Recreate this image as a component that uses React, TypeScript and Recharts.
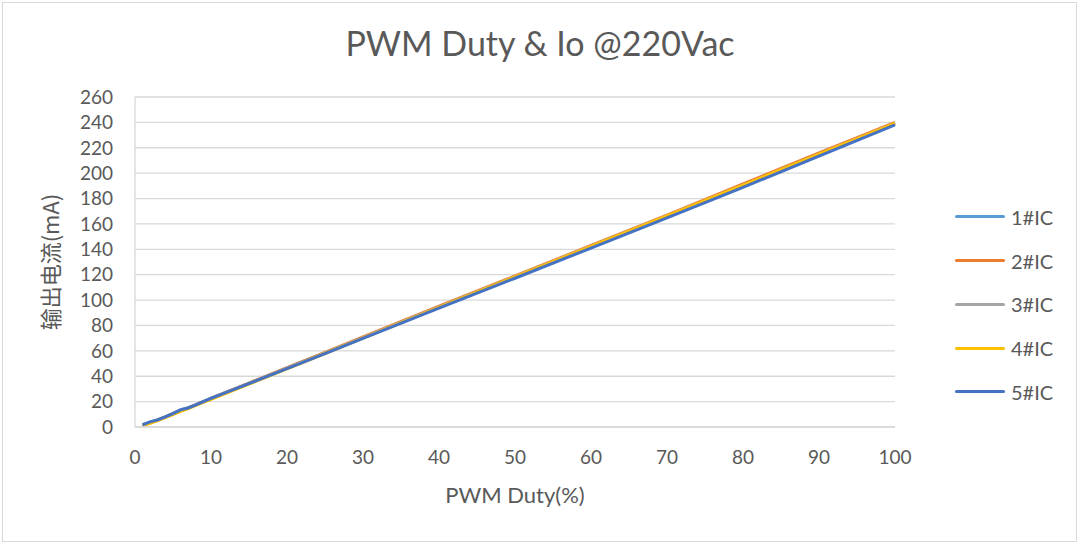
import { CartesianGrid, Label, Line, LineChart, XAxis, YAxis } from "recharts";

const duty = [1, 2, 3, 4, 5, 6, 7, 8, 9, 10, 15, 20, 25, 30, 40, 50, 60, 70, 80, 90, 100];

const ic1 = [1.8, 4, 5.8, 8.2, 10.8, 13.6, 15.2, 17.6, 20.2, 22.8, 34.5, 46.5, 58.3, 70.5, 94.5, 118, 142, 166, 190, 215, 239];
const ic2 = [1.5, 3.6, 5.6, 8, 10.5, 13, 15, 17.5, 20, 22.6, 34.6, 46.8, 58.8, 71, 95.2, 119, 143, 167, 191.5, 216, 240];
const ic3 = [1.4, 3.4, 5.4, 7.8, 10.2, 12.8, 14.8, 17.2, 19.8, 22.3, 34.2, 46.3, 58.3, 70.4, 94.6, 118.4, 142.4, 166.4, 190.6, 215, 239.2];
const ic4 = [1, 2.8, 5, 7.4, 9.8, 12.3, 14.5, 17, 19.4, 21.8, 33.7, 45.8, 57.9, 70, 94.3, 118.2, 142.3, 166.3, 190.5, 215, 239.3];
const ic5 = [1.6, 4, 5.6, 8, 10.6, 13.5, 15, 17.4, 20, 22.5, 34.2, 46, 57.8, 69.8, 93.6, 117.2, 141, 164.8, 188.8, 213.5, 238];

const xTicks = [0, 10, 20, 30, 40, 50, 60, 70, 80, 90, 100];
const yTicks = [0, 20, 40, 60, 80, 100, 120, 140, 160, 180, 200, 220, 240, 260];

const series = [
  { key: "ic1", name: "1#IC", color: "#5B9BD5", values: ic1 },
  { key: "ic2", name: "2#IC", color: "#ED7D31", values: ic2 },
  { key: "ic3", name: "3#IC", color: "#A5A5A5", values: ic3 },
  { key: "ic4", name: "4#IC", color: "#FFC000", values: ic4 },
  { key: "ic5", name: "5#IC", color: "#4472C4", values: ic5 },
];

const data = duty.map((d, i) => {
  const row: Record<string, number> = { duty: d };
  series.forEach((s) => {
    row[s.key] = s.values[i];
  });
  return row;
});

const font = "Lato, 'Noto Sans', sans-serif";
const textColor = "#595959";

// legend sits outside the chart so it doesn't eat plot width
function LegendList() {
  return (
    <ul style={{ position: "absolute", left: 955, top: 195, listStyle: "none", margin: 0, padding: 0 }}>
      {series.map((s) => (
        <li key={s.key} style={{ display: "flex", alignItems: "center", height: 43.75 }}>
          <span style={{ display: "inline-block", width: 50, height: 3, background: s.color, borderRadius: 2, marginRight: 6 }} />
          <span style={{ fontSize: 20, color: textColor, fontFamily: font }}>{s.name}</span>
        </li>
      ))}
    </ul>
  );
}

export default function App() {
  return (
    <div
      style={{
        position: "absolute",
        left: 0,
        top: 0,
        width: 1080,
        height: 545,
        background: "#fff",
        fontFamily: font,
      }}
    >
      <div
        style={{
          position: "absolute",
          left: 2,
          top: 2,
          width: 1073,
          height: 538,
          border: "1px solid #d9d9d9",
        }}
      />
      <div
        style={{
          position: "absolute",
          top: 22,
          left: 0,
          width: 1080,
          textAlign: "center",
          fontSize: 34,
          color: textColor,
          fontFamily: font,
        }}
      >
        PWM Duty &amp; Io @220Vac
      </div>
      <LineChart
        width={1080}
        height={545}
        data={data}
        margin={{ top: 97, right: 185, bottom: 36, left: 75 }}
        style={{ position: "absolute", left: 0, top: 0 }}
      >
        <CartesianGrid horizontal vertical={false} stroke="#d9d9d9" strokeWidth={1.3} />
        <XAxis
          dataKey="duty"
          type="number"
          domain={[0, 100]}
          ticks={xTicks}
          interval={0}
          stroke="#d9d9d9"
          strokeWidth={1.3}
          tickLine={false}
          tick={{ fill: textColor, fontSize: 19, fontFamily: font }}
          tickMargin={18}
          height={82}
        >
          <Label value="PWM Duty(%)" position="insideBottom" offset={6} fill={textColor} fontSize={22} fontFamily={font} />
        </XAxis>
        <YAxis
          type="number"
          domain={[0, 260]}
          ticks={yTicks}
          interval={0}
          stroke="#d9d9d9"
          strokeWidth={1.3}
          tickLine={false}
          tick={{ fill: textColor, fontSize: 19, fontFamily: font }}
          tickMargin={16}
          width={60}
        >
          <Label
            value="输出电流(mA)"
            angle={-90}
            position="insideLeft"
            offset={-24}
            fill={textColor}
            fontSize={22}
            style={{ textAnchor: "middle", fontFamily: "'Noto Sans CJK SC', sans-serif" }}
          />
        </YAxis>
        {series.map((s) => (
          <Line
            key={s.key}
            dataKey={s.key}
            name={s.name}
            stroke={s.color}
            strokeWidth={3}
            dot={false}
            type="linear"
            isAnimationActive={false}
          />
        ))}
      </LineChart>
      <LegendList />
    </div>
  );
}
